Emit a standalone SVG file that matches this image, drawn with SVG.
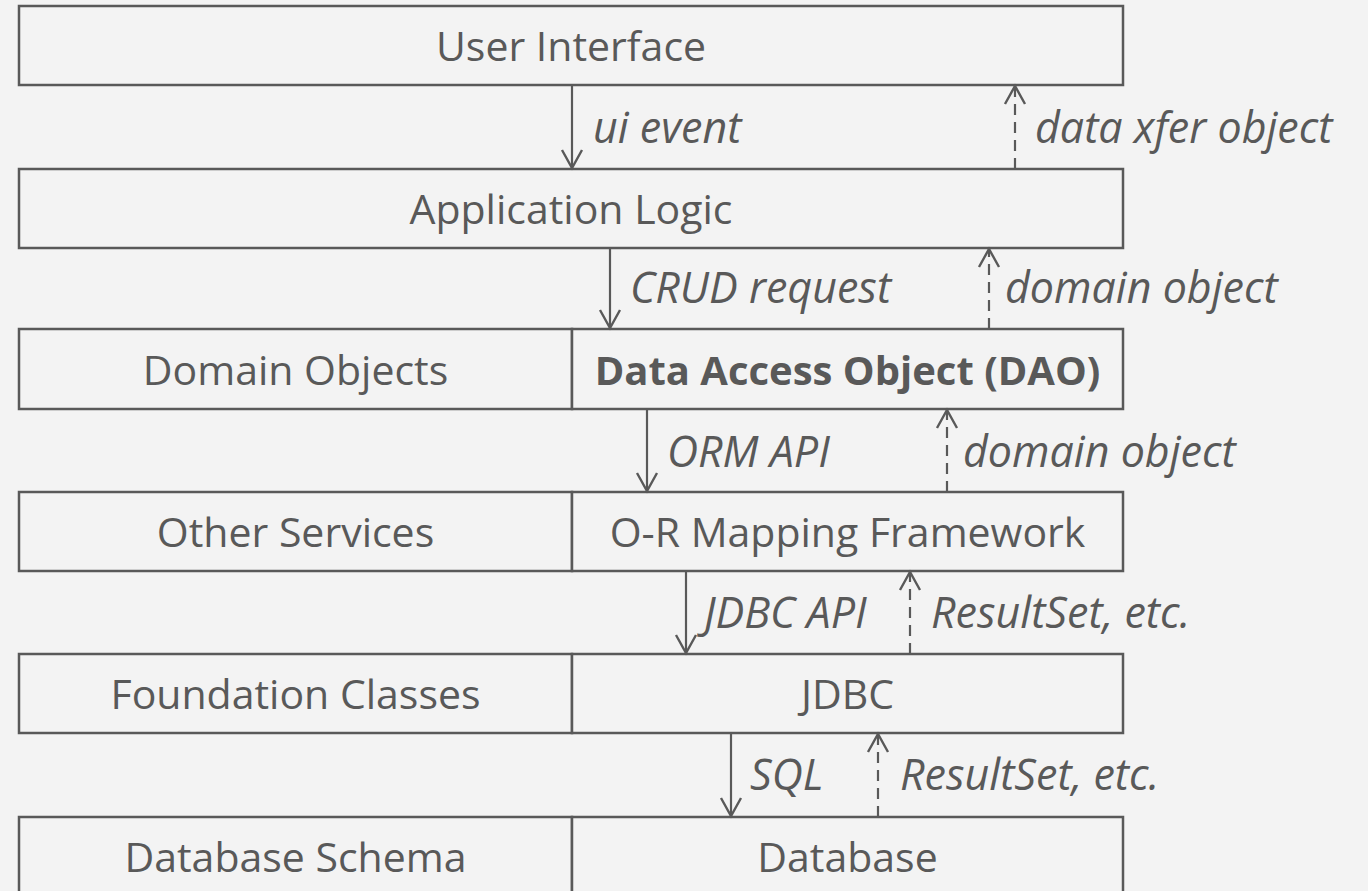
<svg xmlns="http://www.w3.org/2000/svg" width="1368" height="891" viewBox="0 0 1368 891">
<style>
.box{fill:#f3f3f3;stroke:#595959;stroke-width:2.5}
.t{font-family:"Open Sans","Noto Sans","Liberation Sans",sans-serif;font-size:41px;fill:#595959;text-anchor:middle}
.b{font-weight:bold;font-size:40px}
.l{font-family:"Open Sans","Noto Sans","Liberation Sans",sans-serif;font-size:43px;fill:#595959;font-style:italic}
.a{stroke:#595959;stroke-width:2.2;fill:none}
.d{stroke-dasharray:11,7}
</style>
<defs>
<marker id="ah" markerUnits="userSpaceOnUse" markerWidth="26" markerHeight="26" viewBox="-23 -13 26 26" refX="0" refY="0" orient="auto">
<path d="M-18,-10 L0,0 L-18,10" fill="none" stroke="#595959" stroke-width="2.4"/>
</marker>
</defs>
<rect width="1368" height="891" fill="#f3f3f3"/>
<g id="user-interface"><rect class="box" x="19" y="6" width="1104" height="79"/><text class="t" x="571" y="61">User Interface</text></g>
<g id="application-logic"><rect class="box" x="19" y="169" width="1104" height="79"/><text class="t" x="571" y="224">Application Logic</text></g>
<g id="domain-objects"><rect class="box" x="19" y="329" width="553" height="80"/><text class="t" x="295.5" y="385">Domain Objects</text></g>
<g id="dao"><rect class="box" x="572" y="329" width="551" height="80"/><text class="t b" x="847.5" y="385">Data Access Object (DAO)</text></g>
<g id="other-services"><rect class="box" x="19" y="492" width="553" height="79"/><text class="t" x="295.5" y="547">Other Services</text></g>
<g id="orm"><rect class="box" x="572" y="492" width="551" height="79"/><text class="t" x="847.5" y="547">O-R Mapping Framework</text></g>
<g id="foundation-classes"><rect class="box" x="19" y="654" width="553" height="79"/><text class="t" x="295.5" y="709">Foundation Classes</text></g>
<g id="jdbc"><rect class="box" x="572" y="654" width="551" height="79"/><text class="t" x="847.5" y="709">JDBC</text></g>
<g id="database-schema"><rect class="box" x="19" y="817" width="553" height="90"/><text class="t" x="295.5" y="872">Database Schema</text></g>
<g id="database"><rect class="box" x="572" y="817" width="551" height="90"/><text class="t" x="847.5" y="872">Database</text></g>
<g id="connectors">
<line class="a" x1="572" y1="85" x2="572" y2="168" marker-end="url(#ah)"/>
<line class="a d" x1="1015" y1="169" x2="1015" y2="86" marker-end="url(#ah)"/>
<line class="a" x1="610" y1="248" x2="610" y2="328" marker-end="url(#ah)"/>
<line class="a d" x1="989" y1="329" x2="989" y2="249" marker-end="url(#ah)"/>
<line class="a" x1="647" y1="409" x2="647" y2="491" marker-end="url(#ah)"/>
<line class="a d" x1="947" y1="492" x2="947" y2="410" marker-end="url(#ah)"/>
<line class="a" x1="686" y1="571" x2="686" y2="653" marker-end="url(#ah)"/>
<line class="a d" x1="910" y1="654" x2="910" y2="572" marker-end="url(#ah)"/>
<line class="a" x1="731" y1="733" x2="731" y2="816" marker-end="url(#ah)"/>
<line class="a d" x1="878" y1="817" x2="878" y2="734" marker-end="url(#ah)"/>
<text class="l" x="593" y="143">ui event</text>
<text class="l" x="1035" y="143">data xfer object</text>
<text class="l" x="630" y="303">CRUD request</text>
<text class="l" x="1005" y="303">domain object</text>
<text class="l" x="667" y="467">ORM API</text>
<text class="l" x="963" y="467">domain object</text>
<text class="l" x="704" y="628">JDBC API</text>
<text class="l" x="931" y="628">ResultSet, etc.</text>
<text class="l" x="750" y="790">SQL</text>
<text class="l" x="900" y="790">ResultSet, etc.</text>
</g>
</svg>
